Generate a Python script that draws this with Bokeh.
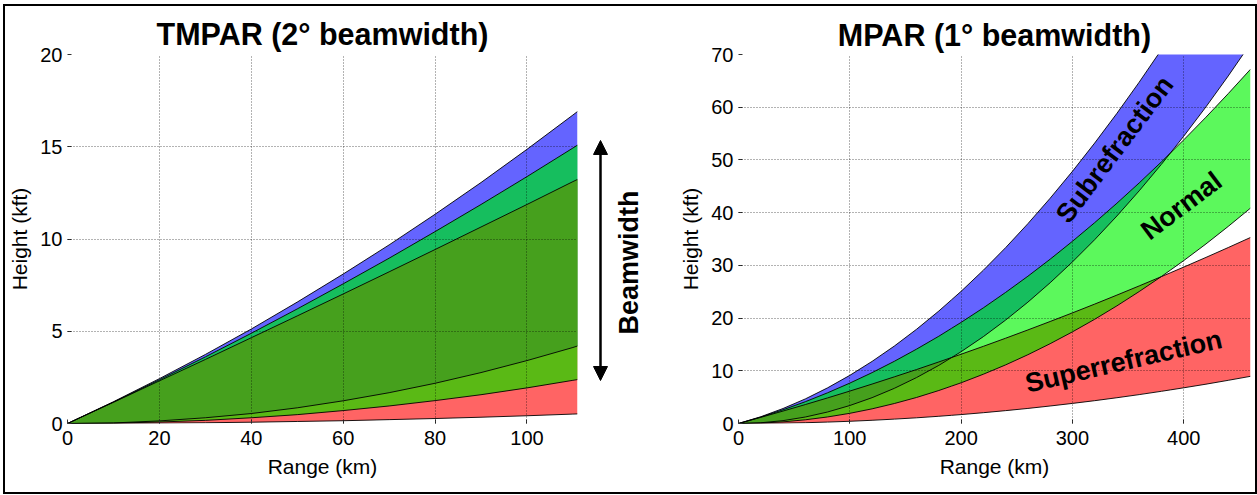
import numpy as np
from bokeh.plotting import figure
from bokeh.layouts import row
from bokeh.models import Range1d, FixedTicker, Arrow, NormalHead, Label
from bokeh.embed import file_html
from bokeh.resources import INLINE

# ---------------- data (heights in kft, range in km) ----------------
tm_range = [0, 10, 20, 30, 40, 50, 60, 70, 80, 90, 100, 110, 111]
tm_sub_top = [0, 1.18, 2.43, 3.74, 5.12, 6.58, 8.10, 9.68, 11.34, 13.06, 14.86, 16.72, 16.91]
tm_sub_bot = [0, 0.03, 0.14, 0.31, 0.54, 0.85, 1.23, 1.67, 2.18, 2.76, 3.41, 4.12, 4.20]
tm_norm_top = [0, 1.16, 2.37, 3.61, 4.89, 6.21, 7.57, 8.96, 10.40, 11.87, 13.38, 14.93, 15.09]
tm_norm_bot = [0, 0.02, 0.08, 0.17, 0.31, 0.48, 0.70, 0.95, 1.24, 1.56, 1.93, 2.34, 2.38]
tm_sup_top = [0, 1.15, 2.31, 3.47, 4.65, 5.83, 7.02, 8.22, 9.43, 10.65, 11.87, 13.11, 13.23]
tm_sup_bot = [0, 0.00, 0.02, 0.04, 0.07, 0.11, 0.15, 0.21, 0.27, 0.34, 0.42, 0.51, 0.52]

mp_range = [0, 20, 40, 60, 80, 100, 120, 140, 160, 180, 200, 220, 240, 260, 280,
            300, 320, 340, 360, 380, 400, 420, 440, 460]
mp_sub_top = [0, 1.28, 2.84, 4.66, 6.76, 9.13, 11.78, 14.69, 17.88, 21.34, 25.07, 29.08,
              33.36, 37.91, 42.73, 47.83, 53.20, 58.84, 64.75, 70.93, 77.39, 84.12, 91.12, 98.40]
mp_sub_bot = [0, 0.14, 0.54, 1.23, 2.18, 3.41, 4.90, 6.67, 8.72, 11.03, 13.62, 16.48,
              19.62, 23.02, 26.70, 30.65, 34.87, 39.37, 44.14, 49.18, 54.49, 60.07, 65.93, 72.06]
mp_norm_top = [0, 1.22, 2.60, 4.13, 5.82, 7.66, 9.65, 11.80, 14.11, 16.56, 19.18, 21.94,
               24.87, 27.94, 31.17, 34.56, 38.10, 41.79, 45.64, 49.64, 53.80, 58.11, 62.58, 67.20]
mp_norm_bot = [0, 0.08, 0.31, 0.70, 1.24, 1.93, 2.78, 3.79, 4.94, 6.26, 7.72, 9.35,
               11.12, 13.05, 15.14, 17.38, 19.77, 22.32, 25.03, 27.89, 30.90, 34.06, 37.39, 40.86]
mp_sup_top = [0, 1.16, 2.36, 3.59, 4.85, 6.15, 7.48, 8.85, 10.24, 11.68, 13.14, 14.64,
              16.18, 17.75, 19.35, 20.98, 22.65, 24.36, 26.10, 27.87, 29.67, 31.51, 33.38, 35.29]
mp_sup_bot = [0, 0.02, 0.07, 0.15, 0.27, 0.42, 0.61, 0.83, 1.08, 1.37, 1.69, 2.05,
              2.44, 2.86, 3.32, 3.81, 4.33, 4.89, 5.48, 6.11, 6.77, 7.46, 8.19, 8.95]

tm_xticks = [0, 20, 40, 60, 80, 100]
tm_yticks = [0, 5, 10, 15, 20]
mp_xticks = [0, 100, 200, 300, 400]
mp_yticks = [0, 10, 20, 30, 40, 50, 60, 70]

C_SUB = "#6464ff"
C_NORM = "#5cf85c"
C_SUP = "#ff6464"
C_SUB_NORM = "#16be5e"
C_NORM_SUP = "#5ab915"
C_ALL = "#46a01d"

FONT = "Liberation Sans"


def refine(x, curves):
    x = np.asarray(x, float)
    cs = [np.asarray(c, float) for c in curves]
    xs = set(x.tolist())
    for i in range(len(cs)):
        for j in range(i + 1, len(cs)):
            d = cs[i] - cs[j]
            for k in range(len(x) - 1):
                if d[k] * d[k + 1] < 0:
                    t = d[k] / (d[k] - d[k + 1])
                    xs.add(x[k] + t * (x[k + 1] - x[k]))
    xr = np.array(sorted(xs))
    return xr, [np.interp(xr, x, c) for c in cs]


def panel(title, x, sub_b, sub_t, nb, nt, sb, st, xend, yend, xticks, yticks,
          width, left, right, top, bottom, tstand):
    p = figure(width=width, height=486, x_range=Range1d(0, xend), y_range=Range1d(0, yend),
               output_backend="svg", toolbar_location=None,
               min_border_left=left, min_border_right=right,
               min_border_top=top, min_border_bottom=bottom)
    p.background_fill_color = "white"
    p.border_fill_color = "white"
    p.outline_line_color = None
    xr, (a1, a2, b1, b2, c1, c2) = refine(x, [sub_b, sub_t, nb, nt, sb, st])
    p.varea(xr, a1, a2, fill_color=C_SUB)
    p.varea(xr, b1, b2, fill_color=C_NORM)
    p.varea(xr, c1, c2, fill_color=C_SUP)
    lo = np.maximum(a1, b1); hi = np.maximum(np.minimum(a2, b2), lo)
    p.varea(xr, lo, hi, fill_color=C_SUB_NORM)
    lo = np.maximum(b1, c1); hi = np.maximum(np.minimum(b2, c2), lo)
    p.varea(xr, lo, hi, fill_color=C_NORM_SUP)
    lo = np.maximum(np.maximum(a1, b1), c1)
    hi = np.maximum(np.minimum(np.minimum(a2, b2), c2), lo)
    p.varea(xr, lo, hi, fill_color=C_ALL)
    for c in (a1, a2, b1, b2, c1, c2):
        p.line(xr, c, line_color="black", line_width=0.9)

    p.title.text = title
    p.title.align = "center"
    p.title.text_font = FONT
    p.title.text_font_size = "30.5px"
    p.title.text_font_style = "bold"
    p.title.text_color = "black"
    p.title.standoff = tstand

    p.xaxis.ticker = FixedTicker(ticks=xticks)
    p.yaxis.ticker = FixedTicker(ticks=yticks)
    p.xaxis.axis_label = "Range (km)"
    p.yaxis.axis_label = "Height (kft)"
    for ax in (p.xaxis[0], p.yaxis[0]):
        ax.axis_line_color = None
        ax.major_tick_in = 4
        ax.major_tick_out = 0
        ax.major_tick_line_color = "#333333"
        ax.minor_tick_line_color = None
        ax.major_label_text_font = FONT
        ax.major_label_text_font_size = "20px"
        ax.major_label_text_color = "black"
        ax.major_label_standoff = 5
        ax.axis_label_text_font = FONT
        ax.axis_label_text_font_size = "21px"
        ax.axis_label_text_font_style = "normal"
        ax.axis_label_text_color = "black"
        ax.axis_label_standoff = 6
    p.xaxis[0].major_label_standoff = 7
    p.xaxis[0].axis_label_standoff = 7
    for g in (p.xgrid[0], p.ygrid[0]):
        g.grid_line_color = "black"
        g.grid_line_alpha = 0.6
        g.grid_line_dash = "1 2"
        g.grid_line_width = 1
        g.level = "overlay"
    return p


p1 = panel("TMPAR (2° beamwidth)", tm_range, tm_sub_bot, tm_sub_top, tm_norm_bot, tm_norm_top,
           tm_sup_bot, tm_sup_top, 111, 20, tm_xticks, tm_yticks,
           width=585, left=61, right=13, top=48, bottom=69, tstand=7)

# narrow middle panel holding the beamwidth arrow and its label
pm = figure(width=60, height=486, x_range=Range1d(0, 60), y_range=Range1d(0, 20),
            output_backend="svg", toolbar_location=None,
            min_border_left=0, min_border_right=0, min_border_top=48, min_border_bottom=69)
pm.axis.visible = False
pm.grid.visible = False
pm.outline_line_color = None
pm.background_fill_color = "white"
pm.border_fill_color = "white"
pm.add_layout(Arrow(start=NormalHead(size=14, fill_color="black", line_color="black"),
                    end=NormalHead(size=14, fill_color="black", line_color="black"),
                    x_start=10, y_start=2.33, x_end=10, y_end=15.34,
                    line_width=2.5, line_color="black"))
pm.add_layout(Label(x=38, y=8.73, text="Beamwidth", angle=np.pi / 2,
                    text_align="center", text_baseline="middle",
                    text_font=FONT, text_font_size="27px", text_font_style="bold",
                    text_color="black"))

p2 = panel("MPAR (1° beamwidth)", mp_range, mp_sub_bot, mp_sub_top, mp_norm_bot, mp_norm_top,
           mp_sup_bot, mp_sup_top, 460, 70, mp_xticks, mp_yticks,
           width=605, left=88, right=5, top=46, bottom=69, tstand=5)

for txt, x, y, ang in (("Subrefraction", 338, 52.0, 53),
                       ("Normal", 398, 41.3, 37),
                       ("Superrefraction", 346, 11.8, 13.0)):
    p2.add_layout(Label(x=x, y=y, text=txt, angle=np.deg2rad(ang),
                        text_align="center", text_baseline="middle",
                        text_font=FONT, text_font_size="27px", text_font_style="bold",
                        text_color="black"))

layout = row(p1, pm, p2, styles={"border": "2px solid black", "margin-left": "3px",
                                 "margin-top": "4px", "background-color": "white"})

open("out.html", "w").write(file_html(layout, INLINE))
